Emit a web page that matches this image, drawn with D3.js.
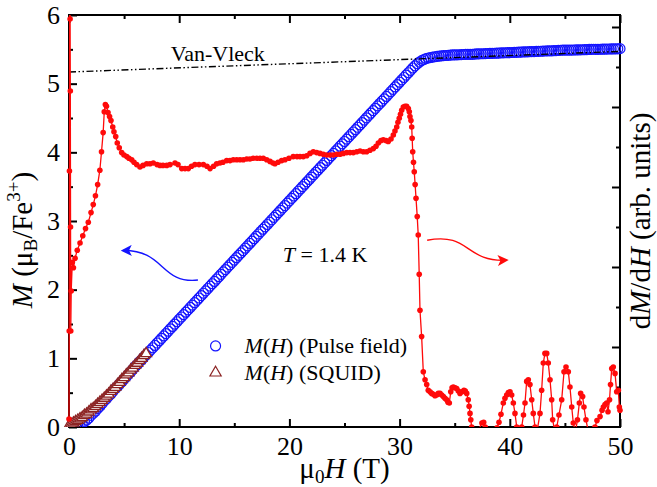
<!DOCTYPE html>
<html>
<head>
<meta charset="utf-8">
<script src="https://cdn.jsdelivr.net/npm/d3@7"></script>
<style>
  html, body { margin: 0; padding: 0; background: #fff; }
  #chart text, #chart tspan { font-family: 'Liberation Serif' !important; }
</style>
</head>
<body>
<svg id="chart" width="657" height="487" font-family="Liberation Serif"></svg>
<script>
// ---- axis ticks ----
const fieldMajorTicks = [0, 10, 20, 30, 40, 50];
const fieldMinorTicks = [5, 15, 25, 35, 45];
const momentMajorTicks = [0, 1, 2, 3, 4, 5, 6];
const momentMinorTicks = [0.5, 1.5, 2.5, 3.5, 4.5, 5.5];
const derivMajorTicks = [1, 2, 3, 4, 5];
const derivMinorTicks = [0.5, 1.5, 2.5, 3.5, 4.5];

// ---- M(H), pulse field: [mu0H (T), M (muB/Fe3+)] ----
const pulseField = [
  [0.4,0.00],[0.6,0.01],[0.8,0.02],[1.0,0.03],[1.2,0.05],[1.4,0.08],[1.6,0.10],[1.8,0.13],
  [2.0,0.17],[2.2,0.20],[2.4,0.23],[2.6,0.27],[2.8,0.30],[3.0,0.34],[3.2,0.38],[3.4,0.41],
  [3.6,0.45],[3.8,0.48],[4.0,0.52],[4.2,0.56],[4.4,0.59],[4.6,0.63],[4.8,0.66],[5.0,0.70],
  [5.2,0.73],[5.4,0.77],[5.6,0.80],[5.8,0.84],[6.0,0.88],[6.2,0.91],[6.4,0.95],[6.6,0.98],
  [6.8,1.02],[7.0,1.050],[7.2,1.085],[7.4,1.119],[7.6,1.154],[7.8,1.188],[8.0,1.223],[8.2,1.257],
  [8.4,1.292],[8.6,1.326],[8.8,1.361],[9.0,1.395],[9.2,1.430],[9.4,1.464],[9.6,1.499],[9.8,1.533],
  [10.0,1.568],[10.2,1.602],[10.4,1.637],[10.6,1.672],[10.8,1.706],[11.0,1.741],[11.2,1.775],[11.4,1.810],
  [11.6,1.844],[11.8,1.879],[12.0,1.913],[12.2,1.948],[12.4,1.982],[12.6,2.017],[12.8,2.051],[13.0,2.086],
  [13.2,2.120],[13.4,2.155],[13.6,2.189],[13.8,2.224],[14.0,2.259],[14.2,2.293],[14.4,2.328],[14.6,2.362],
  [14.8,2.397],[15.0,2.431],[15.2,2.466],[15.4,2.500],[15.6,2.535],[15.8,2.569],[16.0,2.604],[16.2,2.638],
  [16.4,2.673],[16.6,2.707],[16.8,2.742],[17.0,2.777],[17.2,2.811],[17.4,2.846],[17.6,2.880],[17.8,2.915],
  [18.0,2.949],[18.2,2.984],[18.4,3.018],[18.6,3.053],[18.8,3.087],[19.0,3.122],[19.2,3.156],[19.4,3.191],
  [19.6,3.225],[19.8,3.260],[20.0,3.294],[20.2,3.329],[20.4,3.364],[20.6,3.398],[20.8,3.433],[21.0,3.467],
  [21.2,3.502],[21.4,3.536],[21.6,3.571],[21.8,3.605],[22.0,3.640],[22.2,3.674],[22.4,3.709],[22.6,3.743],
  [22.8,3.778],[23.0,3.812],[23.2,3.847],[23.4,3.882],[23.6,3.916],[23.8,3.951],[24.0,3.985],[24.2,4.020],
  [24.4,4.054],[24.6,4.089],[24.8,4.123],[25.0,4.158],[25.2,4.192],[25.4,4.227],[25.6,4.261],[25.8,4.296],
  [26.0,4.330],[26.2,4.365],[26.4,4.399],[26.6,4.434],[26.8,4.469],[27.0,4.503],[27.2,4.538],[27.4,4.572],
  [27.6,4.607],[27.8,4.641],[28.0,4.676],[28.2,4.710],[28.4,4.745],[28.6,4.779],[28.8,4.814],[29.0,4.848],
  [29.2,4.883],[29.4,4.917],[29.6,4.952],[29.8,4.987],[30.0,5.021],[30.2,5.056],[30.4,5.090],[30.6,5.125],
  [30.8,5.159],[31.0,5.194],[31.2,5.228],[31.4,5.260],[31.6,5.290],[31.8,5.315],[32.0,5.335],[32.2,5.352],
  [32.4,5.365],[32.6,5.374],[32.8,5.381],[33.0,5.387],[33.2,5.392],[33.4,5.397],[33.6,5.401],[33.8,5.405],
  [34.0,5.408],[34.2,5.410],[34.4,5.413],[34.6,5.416],[34.8,5.418],[35.0,5.419],[35.2,5.420],[35.4,5.421],
  [35.6,5.423],[35.8,5.425],[36.0,5.426],[36.2,5.427],[36.4,5.427],[36.6,5.428],[36.8,5.430],[37.0,5.433],
  [37.2,5.435],[37.4,5.436],[37.6,5.436],[37.8,5.437],[38.0,5.439],[38.2,5.441],[38.4,5.442],[38.6,5.443],
  [38.8,5.444],[39.0,5.446],[39.2,5.448],[39.4,5.449],[39.6,5.450],[39.8,5.451],[40.0,5.452],[40.2,5.454],
  [40.4,5.456],[40.6,5.457],[40.8,5.458],[41.0,5.460],[41.2,5.462],[41.4,5.463],[41.6,5.464],[41.8,5.466],
  [42.0,5.467],[42.2,5.468],[42.4,5.470],[42.6,5.471],[42.8,5.472],[43.0,5.474],[43.2,5.476],[43.4,5.477],
  [43.6,5.478],[43.8,5.479],[44.0,5.480],[44.2,5.482],[44.4,5.484],[44.6,5.487],[44.8,5.489],[45.0,5.489],
  [45.2,5.488],[45.4,5.488],[45.6,5.489],[45.8,5.490],[46.0,5.491],[46.2,5.492],[46.4,5.493],[46.6,5.494],
  [46.8,5.495],[47.0,5.496],[47.2,5.498],[47.4,5.500],[47.6,5.501],[47.8,5.500],[48.0,5.500],[48.2,5.501],
  [48.4,5.502],[48.6,5.503],[48.8,5.504],[49.0,5.505],[49.2,5.506],[49.4,5.506],[49.6,5.507],[49.8,5.508],
  [50.0,5.510]
];

// ---- M(H), SQUID: [mu0H (T), M (muB/Fe3+)] ----
const squid = [
  [0.0,0.02],[0.2,0.04],[0.4,0.06],[0.6,0.08],[0.8,0.10],[1.0,0.12],[1.2,0.14],[1.4,0.17],
  [1.6,0.19],[1.8,0.22],[2.0,0.25],[2.2,0.27],[2.4,0.30],[2.6,0.33],[2.8,0.36],[3.0,0.39],
  [3.2,0.42],[3.4,0.45],[3.6,0.48],[3.8,0.52],[4.0,0.55],[4.2,0.58],[4.4,0.62],[4.6,0.65],
  [4.8,0.69],[5.0,0.72],[5.2,0.76],[5.4,0.79],[5.6,0.83],[5.8,0.86],[6.0,0.90],[6.2,0.93],
  [6.4,0.97],[6.6,1.00],[6.8,1.04],[7.0,1.07]
];

// ---- dM/dH (arb. units): [mu0H (T), dM/dH] ----
const dMdH = [
  [0.00,0.10],[0.02,1.20],[0.04,3.20],[0.06,5.60],[0.08,7.00],[0.10,5.10],[0.12,4.20],[0.14,2.50],
  [0.16,1.20],[0.20,1.70],[0.30,2.06],[0.40,1.99],[0.55,2.11],[0.75,2.21],[1.00,2.30],[1.25,2.39],
  [1.50,2.48],[1.75,2.56],[2.00,2.68],[2.20,2.78],[2.40,2.89],[2.60,3.03],[2.80,3.21],[2.95,3.44],
  [3.10,3.68],[3.20,3.94],[3.30,4.03],[3.40,4.01],[3.54,3.93],[3.68,3.88],[3.81,3.83],[3.97,3.75],
  [4.08,3.69],[4.24,3.63],[4.38,3.55],[4.56,3.49],[4.78,3.43],[4.99,3.40],[5.24,3.38],[5.44,3.36],
  [5.69,3.34],[5.90,3.31],[6.14,3.28],[6.44,3.25],[6.72,3.27],[7.05,3.29],[7.35,3.29],[7.65,3.30],
  [7.99,3.28],[8.26,3.27],[8.53,3.27],[8.87,3.27],[9.17,3.28],[9.62,3.30],[9.89,3.28],[10.23,3.23],
  [10.53,3.23],[10.83,3.23],[11.12,3.26],[11.43,3.28],[11.80,3.28],[12.19,3.28],[12.52,3.26],[12.80,3.23],
  [13.12,3.26],[13.40,3.29],[13.70,3.30],[13.97,3.31],[14.31,3.33],[14.61,3.33],[14.91,3.34],[15.22,3.34],
  [15.52,3.34],[15.82,3.34],[16.13,3.35],[16.42,3.35],[16.72,3.36],[17.03,3.36],[17.33,3.36],[17.63,3.36],
  [17.94,3.34],[18.24,3.32],[18.51,3.30],[18.69,3.29],[18.97,3.31],[19.30,3.33],[19.60,3.34],[19.96,3.36],
  [20.35,3.38],[20.69,3.38],[20.96,3.38],[21.26,3.38],[21.57,3.39],[21.87,3.42],[22.17,3.44],[22.48,3.43],
  [22.78,3.42],[23.08,3.41],[23.38,3.40],[23.68,3.40],[23.98,3.40],[24.29,3.41],[24.59,3.41],[24.89,3.42],
  [25.20,3.43],[25.50,3.43],[25.80,3.43],[26.11,3.44],[26.41,3.45],[26.71,3.44],[27.01,3.44],[27.31,3.46],
  [27.62,3.48],[27.86,3.51],[28.07,3.55],[28.31,3.58],[28.52,3.59],[28.77,3.58],[28.97,3.57],[29.22,3.60],
  [29.43,3.65],[29.58,3.70],[29.74,3.75],[29.85,3.81],[29.97,3.86],[30.08,3.91],[30.19,3.96],[30.34,4.00],
  [30.49,4.01],[30.64,4.01],[30.79,3.98],[30.88,3.94],[30.94,3.88],[31.03,3.83],[31.10,3.75],[31.14,3.61],
  [31.19,3.44],[31.26,3.31],[31.33,3.19],[31.41,3.03],[31.49,2.86],[31.60,2.63],[31.69,2.40],[31.78,1.91],
  [31.85,1.46],[32.00,1.13],[32.15,0.69],[32.31,0.59],[32.46,0.53],[32.60,0.46],[32.76,0.44],[32.91,0.42],
  [33.06,0.41],[33.21,0.39],[33.37,0.40],[33.51,0.42],[33.67,0.42],[33.82,0.40],[33.97,0.38],[34.12,0.36],
  [34.27,0.34],[34.39,0.31],[34.51,0.30],[34.64,0.44],[34.76,0.49],[34.87,0.50],[35.03,0.49],[35.18,0.48],
  [35.33,0.45],[35.48,0.42],[35.66,0.44],[35.84,0.46],[35.96,0.45],[36.09,0.42],[36.23,0.34],[36.31,0.26],
  [36.39,0.17],[36.46,0.09],[36.54,0.00],[36.66,-0.06],[36.93,-0.16],[37.14,-0.04],[37.47,0.05],[37.63,0.06],
  [37.77,0.00],[38.03,-0.07],[38.30,-0.16],[38.57,-0.10],[38.84,-0.01],[39.02,0.06],[39.20,0.16],[39.41,0.30],
  [39.56,0.36],[39.72,0.40],[39.87,0.43],[40.02,0.44],[40.17,0.40],[40.32,0.30],[40.47,0.17],[40.63,0.00],
  [40.79,-0.06],[40.93,-0.04],[41.08,0.00],[41.24,0.15],[41.38,0.30],[41.53,0.57],[41.68,0.59],[41.83,0.53],
  [41.99,0.34],[42.13,0.17],[42.29,0.00],[42.47,-0.06],[42.74,0.17],[42.89,0.46],[43.04,0.80],[43.19,0.92],
  [43.35,0.92],[43.49,0.80],[43.65,0.59],[43.80,0.34],[43.89,0.09],[44.06,-0.04],[44.26,0.00],[44.46,0.15],
  [44.71,0.34],[44.92,0.69],[45.10,0.75],[45.31,0.69],[45.46,0.50],[45.62,0.25],[45.76,0.05],[45.96,-0.06],
  [46.14,0.09],[46.31,0.30],[46.43,0.42],[46.61,0.38],[46.73,0.25],[46.91,0.09],[47.10,-0.04],[47.37,-0.06],
  [47.60,-0.04],[47.73,0.00],[47.91,0.08],[48.19,0.13],[48.37,0.21],[48.49,0.25],[48.64,0.28],[48.79,0.30],
  [48.91,0.19],[49.05,0.34],[49.14,0.53],[49.25,0.73],[49.39,0.75],[49.55,0.67],[49.70,0.44],[49.85,0.46],
  [49.94,0.25],[50.00,0.21]
];

// ---- Van Vleck background line: [mu0H (T), M] ----
const vanVleck = [[0, 5.17], [50, 5.47]];

// ---- colours ----
const blue = "#1414ff";
const red = "#ff0a0a";
const squidColor = "#8b2323";

const svg = d3.select("#chart");
const W = 657, H = 487;
const plot = { left: 69, right: 620, top: 15, bottom: 427 };

const x = d3.scaleLinear().domain([0, 50]).range([plot.left, plot.right]);
const yL = d3.scaleLinear().domain([0, 6]).range([plot.bottom, plot.top]);
const yR = d3.scaleLinear().domain([0, 5.15]).range([plot.bottom, plot.top]);

const TICK_FONT = 26;

// ---- axes ----
function drawAxis(axis, tx, ty, labels) {
  const g = svg.append("g").attr("transform", `translate(${tx},${ty})`).call(axis);
  g.attr("font-family", "Liberation Serif");
  g.select(".domain").remove();
  g.selectAll(".tick line").attr("stroke", "#000").attr("stroke-width", 2);
  g.selectAll(".tick text")
    .attr("font-family", "Liberation Serif")
    .attr("font-size", TICK_FONT).attr("fill", "#000");
  if (!labels) g.selectAll(".tick text").remove();
  return g;
}
const fmt = d3.format("d");
drawAxis(d3.axisBottom(x).tickValues(fieldMajorTicks).tickSizeInner(-8).tickSizeOuter(0).tickPadding(10).tickFormat(fmt), 0, plot.bottom, true);
drawAxis(d3.axisBottom(x).tickValues(fieldMinorTicks).tickSizeInner(-4).tickSizeOuter(0), 0, plot.bottom, false);
drawAxis(d3.axisTop(x).tickValues(fieldMajorTicks).tickSizeInner(-8).tickSizeOuter(0), 0, plot.top, false);
drawAxis(d3.axisTop(x).tickValues(fieldMinorTicks).tickSizeInner(-4).tickSizeOuter(0), 0, plot.top, false);
drawAxis(d3.axisLeft(yL).tickValues(momentMajorTicks).tickSizeInner(-8).tickSizeOuter(0).tickPadding(9).tickFormat(fmt), plot.left, 0, true);
drawAxis(d3.axisLeft(yL).tickValues(momentMinorTicks).tickSizeInner(-4).tickSizeOuter(0), plot.left, 0, false);
drawAxis(d3.axisRight(yR).tickValues(derivMajorTicks).tickSizeInner(-8).tickSizeOuter(0), plot.right, 0, false);
drawAxis(d3.axisRight(yR).tickValues(derivMinorTicks).tickSizeInner(-4).tickSizeOuter(0), plot.right, 0, false);

svg.append("rect")
  .attr("x", plot.left).attr("y", plot.top)
  .attr("width", plot.right - plot.left).attr("height", plot.bottom - plot.top)
  .attr("fill", "none").attr("stroke", "#000").attr("stroke-width", 2);

// ---- clipping (vertical only) ----
const defs = svg.append("defs");
defs.append("clipPath").attr("id", "plotClip")
  .append("rect").attr("x", 0).attr("y", plot.top).attr("width", W).attr("height", plot.bottom - plot.top);

const data = svg.append("g").attr("clip-path", "url(#plotClip)");

// pulse-field magnetisation: open circles
data.append("g").selectAll("circle").data(pulseField).join("circle")
  .attr("cx", d => x(d[0])).attr("cy", d => yL(d[1])).attr("r", 5)
  .attr("fill", "none").attr("stroke", blue).attr("stroke-width", 1.2);

// SQUID magnetisation: triangles
const tri = d3.symbol().type(d3.symbolTriangle).size(50);
data.append("g").selectAll("path").data(squid).join("path")
  .attr("d", tri)
  .attr("transform", d => `translate(${x(d[0])},${yL(d[1])})`)
  .attr("fill", "#fff").attr("stroke", squidColor).attr("stroke-width", 1.3);

// Van Vleck contribution
data.append("path").datum(vanVleck)
  .attr("d", d3.line().x(d => x(d[0])).y(d => yL(d[1])))
  .attr("fill", "none").attr("stroke", "#000").attr("stroke-width", 1.4)
  .attr("stroke-dasharray", "7,2.5,1.5,2.5,1.5,2.5");

// derivative dM/dH: red line + dots on right axis
data.append("path").datum(dMdH)
  .attr("d", d3.line().x(d => x(d[0])).y(d => yR(d[1])))
  .attr("fill", "none").attr("stroke", red).attr("stroke-width", 1.3);
data.append("g").selectAll("circle").data(dMdH).join("circle")
  .attr("cx", d => x(d[0])).attr("cy", d => yR(d[1])).attr("r", 2.8)
  .attr("fill", red);

// ---- text helpers ----
function richText(parent, parts, size) {
  const t = parent.append("text").attr("font-size", size).attr("fill", "#000")
    .attr("font-family", "Liberation Serif");
  let shift = 0;
  parts.forEach(p => {
    const sp = t.append("tspan").text(p.t);
    let target = 0, fs = size;
    if (p.sub) { target = 0.18 * size; fs = 0.66 * size; }
    if (p.sup) { target = -0.42 * size; fs = 0.66 * size; }
    sp.attr("font-size", fs);
    if (p.i) sp.attr("font-style", "italic");
    if (target !== shift) { sp.attr("dy", target - shift); shift = target; }
  });
  return t;
}

// axis titles
const TITLE_FONT = 29;
richText(svg, [{t: "μ"}, {t: "0", sub: true}, {t: "H", i: true}, {t: " (T)"}], TITLE_FONT)
  .attr("x", (plot.left + plot.right) / 2).attr("y", 478).attr("text-anchor", "middle");

richText(svg, [{t: "M", i: true}, {t: " (μ"}, {t: "B", sub: true}, {t: "/Fe"}, {t: "3+", sup: true}, {t: ")"}], TITLE_FONT)
  .attr("text-anchor", "middle")
  .attr("transform", "translate(32,240) rotate(-90)");

richText(svg, [{t: "d"}, {t: "M", i: true}, {t: "/d"}, {t: "H", i: true}, {t: " (arb. units)"}], TITLE_FONT)
  .attr("text-anchor", "middle")
  .attr("transform", "translate(650,221) rotate(-90)");

// annotations
richText(svg, [{t: "Van-Vleck"}], 22)
  .attr("x", x(13.5)).attr("y", yL(5.33)).attr("text-anchor", "middle");

richText(svg, [{t: "T", i: true}, {t: " = 1.4 K"}], 22)
  .attr("x", x(19.4)).attr("y", yL(2.4));

// curved arrows pointing to each axis
function arrowMarker(id, color) {
  defs.append("marker").attr("id", id)
    .attr("viewBox", "0 0 10 10").attr("refX", 8).attr("refY", 5)
    .attr("markerWidth", 11).attr("markerHeight", 11).attr("markerUnits", "userSpaceOnUse")
    .attr("orient", "auto")
    .append("path").attr("d", "M0,0 L10,5 L0,10 L2.5,5 Z").attr("fill", color);
}
arrowMarker("arrowBlue", blue);
arrowMarker("arrowRed", red);

const blueArrow = [[11.7, 2.14], [8.3, 2.08], [8.7, 2.58], [4.9, 2.57]];
const redArrow = [[32.5, 2.72], [36.4, 2.84], [35.9, 2.40], [39.7, 2.43]];
function bezier(pts, yScale) {
  const p = pts.map(d => [x(d[0]), yScale(d[1])]);
  return `M${p[0]}C${p[1]} ${p[2]} ${p[3]}`;
}
svg.append("path").attr("d", bezier(blueArrow, yL))
  .attr("fill", "none").attr("stroke", blue).attr("stroke-width", 1.4)
  .attr("marker-end", "url(#arrowBlue)");
svg.append("path").attr("d", bezier(redArrow, yL))
  .attr("fill", "none").attr("stroke", red).attr("stroke-width", 1.4)
  .attr("marker-end", "url(#arrowRed)");

// legend
const legend = [
  { kind: "circle", label: "Pulse field", H: 13.3, M: 1.18 },
  { kind: "triangle", label: "SQUID", H: 13.3, M: 0.79 }
];
legend.forEach(l => {
  const cx = x(l.H), cy = yL(l.M);
  if (l.kind === "circle") {
    svg.append("circle").attr("cx", cx).attr("cy", cy).attr("r", 5)
      .attr("fill", "none").attr("stroke", blue).attr("stroke-width", 1.2);
  } else {
    svg.append("path").attr("d", d3.symbol().type(d3.symbolTriangle).size(55))
      .attr("transform", `translate(${cx},${cy})`)
      .attr("fill", "none").attr("stroke", squidColor).attr("stroke-width", 1.2);
  }
  richText(svg, [{t: "M", i: true}, {t: "("}, {t: "H", i: true}, {t: ") (" + l.label + ")"}], 22)
    .attr("x", cx + 29).attr("y", cy + 7);
});
</script>
</body>
</html>
